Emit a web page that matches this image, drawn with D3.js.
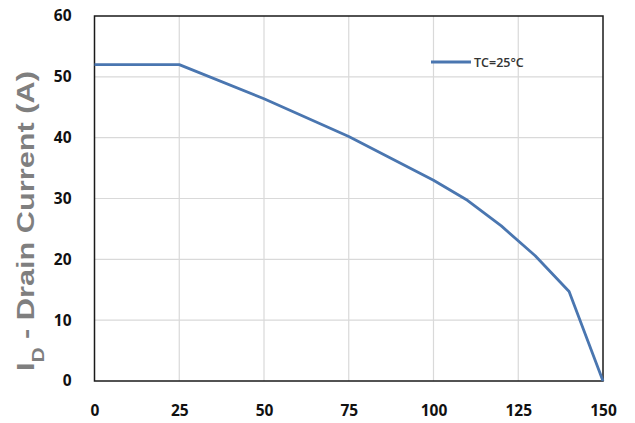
<!DOCTYPE html>
<html>
<head>
<meta charset="utf-8">
<script src="https://cdn.jsdelivr.net/npm/d3@7"></script>
<style>
  html, body { margin: 0; padding: 0; background: #fff; }
  svg { display: block; }
</style>
</head>
<body>
<svg id="chart" width="635" height="423"></svg>
<script>
// Case temperature (°C) and maximum continuous drain current (A)
const temperature = [0, 25, 50, 75, 100, 110, 120, 130, 140, 150];
const drainCurrent = [52, 52, 46.4, 40.2, 33.0, 29.7, 25.5, 20.6, 14.7, 0];
const xTicks = [0, 25, 50, 75, 100, 125, 150];
const yTicks = [0, 10, 20, 30, 40, 50, 60];
const legendLabel = "TC=25°C";

const svg = d3.select("#chart");
const plot = { left: 94.5, right: 603, top: 16, bottom: 381 };

const x = d3.scaleLinear().domain([0, 150]).range([plot.left, plot.right]);
const y = d3.scaleLinear().domain([0, 60]).range([plot.bottom, plot.top]);

// grid
const grid = svg.append("g");
grid.selectAll(".vg").data(xTicks.slice(1, -1)).join("line")
  .attr("x1", d => x(d)).attr("x2", d => x(d))
  .attr("y1", plot.top).attr("y2", plot.bottom)
  .attr("stroke", "#d9d9d9").attr("stroke-width", 1.2);
grid.selectAll(".hg").data(yTicks.slice(1, -1)).join("line")
  .attr("x1", plot.left).attr("x2", plot.right)
  .attr("y1", d => y(d)).attr("y2", d => y(d))
  .attr("stroke", "#d9d9d9").attr("stroke-width", 1.2);

// axes
const xAxis = svg.append("g")
  .attr("transform", `translate(0,${plot.bottom})`)
  .call(d3.axisBottom(x).tickValues(xTicks).tickSize(0).tickPadding(23.5).tickFormat(d3.format("d")));
const yAxis = svg.append("g")
  .attr("transform", `translate(${plot.left},0)`)
  .call(d3.axisLeft(y).tickValues(yTicks).tickSize(0).tickPadding(23).tickFormat(d3.format("d")));
[xAxis, yAxis].forEach(a => {
  a.select(".domain").remove();
  a.selectAll("text")
    .attr("fill", "#111")
    .style("font-family", "'Open Sans', 'Liberation Sans', sans-serif")
    .style("font-weight", "bold")
    .style("font-size", "15.5px");
});

// plot frame
svg.append("rect")
  .attr("x", plot.left).attr("y", plot.top)
  .attr("width", plot.right - plot.left).attr("height", plot.bottom - plot.top)
  .attr("fill", "none").attr("stroke", "#1a1a1a").attr("stroke-width", 1.5);

// derating curve
const line = d3.line().x((d, i) => x(temperature[i])).y(d => y(d));
svg.append("path")
  .datum(drainCurrent)
  .attr("d", line)
  .attr("fill", "none")
  .attr("stroke", "#4a76b0")
  .attr("stroke-width", 2.8)
  .attr("stroke-linejoin", "round");

// legend
const lg = svg.append("g").attr("transform", "translate(431,62)");
lg.append("line").attr("x1", 0).attr("x2", 40).attr("y1", 0).attr("y2", 0)
  .attr("stroke", "#4a76b0").attr("stroke-width", 2.8);
lg.append("text").attr("x", 43).attr("y", 4.5)
  .attr("fill", "#333")
  .style("font-family", "'Open Sans', 'Liberation Sans', sans-serif")
  .style("font-weight", "600")
  .style("font-size", "12.5px")
  .text(legendLabel);

// y axis title with subscript
const yTitle = svg.append("text")
  .attr("fill", "#7f7f7f")
  .style("font-family", "'Liberation Sans', Arial, sans-serif")
  .style("font-weight", "bold")
  .style("font-size", "24px");
yTitle.append("tspan").text("I");
yTitle.append("tspan").attr("baseline-shift", "sub").style("font-size", "16px").text("D");
yTitle.append("tspan").text(" - Drain Current (A)");
const len = yTitle.node().getComputedTextLength();
const sx = 300 / len;
yTitle.attr("text-anchor", "middle")
  .attr("transform", `translate(34,221) rotate(-90) scale(${sx},1)`);
</script>
</body>
</html>
